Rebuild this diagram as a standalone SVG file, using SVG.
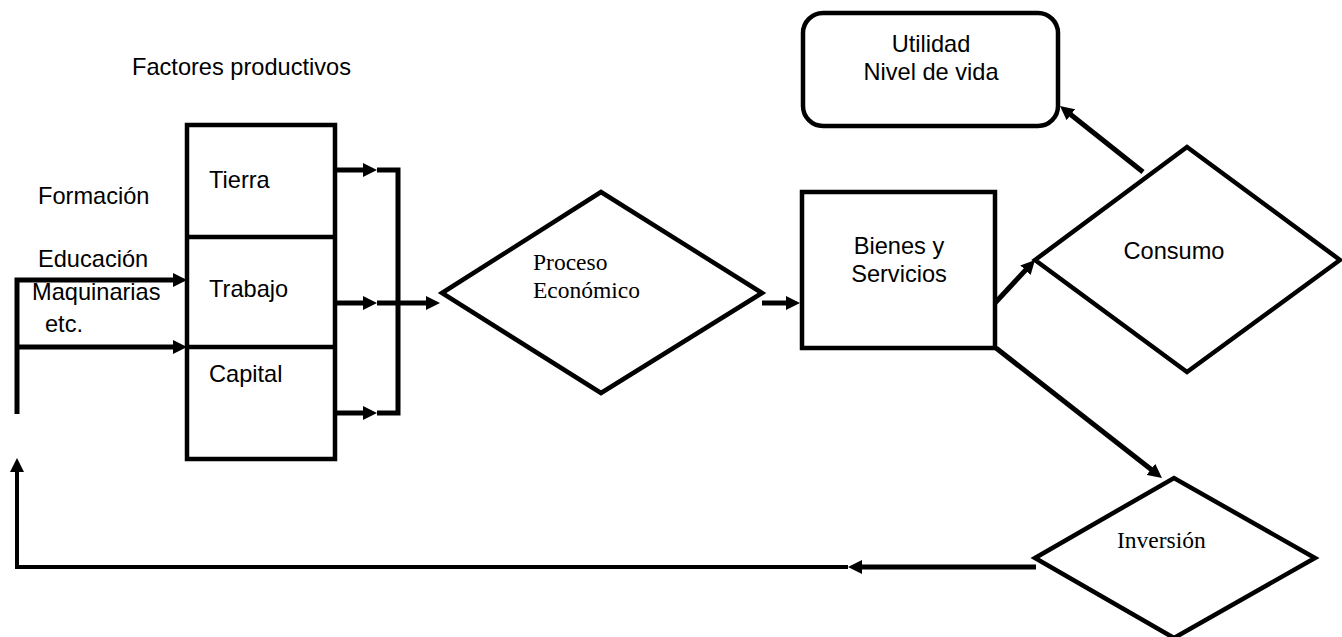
<svg xmlns="http://www.w3.org/2000/svg" width="1342" height="637" viewBox="0 0 1342 637">
<style>
.s{fill:none;stroke:#000;stroke-width:4.5;stroke-linejoin:miter}
.c{fill:none;stroke:#000;stroke-width:5}
.t{font-family:"Liberation Sans",Arial,sans-serif;font-size:23.6px;fill:#000}
.r{font-family:"Liberation Serif","Times New Roman",serif;font-size:23.5px;fill:#000}
.m{text-anchor:middle}
</style>
<defs>
<marker id="ah" markerUnits="userSpaceOnUse" markerWidth="14" markerHeight="14" refX="4" refY="7" orient="auto">
<path d="M0,0 L14,7 L0,14 z" fill="#000"/>
</marker>
</defs>
<rect width="1342" height="637" fill="#fff"/>

<g id="labels">
<text class="t" x="132" y="75">Factores productivos</text>
<text class="t" x="38" y="204">Formación</text>
<text class="t" x="38" y="267">Educación</text>
<text class="t" x="32" y="300">Maquinarias</text>
<text class="t" x="45" y="332">etc.</text>
</g>

<g id="factores">
<rect class="s" x="187" y="125" width="148" height="334"/>
<line class="s" x1="187" y1="237" x2="335" y2="237"/>
<line class="s" x1="187" y1="347" x2="335" y2="347"/>
<text class="t" x="209" y="188">Tierra</text>
<text class="t" x="209" y="297">Trabajo</text>
<text class="t" x="209" y="382">Capital</text>
</g>

<g id="proceso">
<polygon class="s" points="442,293 601,192 762,293 601,393"/>
<text class="r" x="533" y="270">Proceso</text>
<text class="r" x="533" y="298">Económico</text>
</g>

<g id="bienes">
<rect class="s" x="802" y="192" width="193" height="156"/>
<text class="t m" x="899" y="254">Bienes y</text>
<text class="t m" x="899" y="282">Servicios</text>
</g>

<g id="consumo">
<polygon class="s" points="1035,260 1187,147 1340,260 1187,372"/>
<text class="t m" x="1174" y="259">Consumo</text>
</g>

<g id="utilidad">
<rect class="s" x="803" y="13" width="255" height="113" rx="20" ry="20"/>
<text class="t m" x="931" y="52">Utilidad</text>
<text class="t m" x="931" y="80">Nivel de vida</text>
</g>

<g id="inversion">
<polygon class="s" points="1035,558 1174,478 1315,558 1174,638"/>
<text class="r" x="1117" y="548">Inversión</text>
</g>

<g id="connectors">
<polyline class="c" points="17,414 17,280 177,280" marker-end="url(#ah)"/>
<line class="c" x1="17" y1="347" x2="177" y2="347" marker-end="url(#ah)"/>
<line class="c" x1="335" y1="170" x2="367" y2="170" marker-end="url(#ah)"/>
<line class="c" x1="335" y1="303" x2="367" y2="303" marker-end="url(#ah)"/>
<line class="c" x1="335" y1="413" x2="367" y2="413" marker-end="url(#ah)"/>
<polyline class="c" points="377,170 398,170 398,413 377,413"/>
<line class="c" x1="377" y1="303" x2="430" y2="303" marker-end="url(#ah)"/>
<line class="c" x1="762" y1="303" x2="790" y2="303" marker-end="url(#ah)"/>
<line class="c" x1="995" y1="303" x2="1028.2" y2="267.3" marker-end="url(#ah)"/>
<line class="c" x1="1143" y1="172" x2="1067.8" y2="112.2" marker-end="url(#ah)"/>
<line class="c" x1="996" y1="348" x2="1154.1" y2="471.8" marker-end="url(#ah)"/>
<line class="c" x1="1036" y1="567" x2="858" y2="567" marker-end="url(#ah)"/>
<polyline class="c" points="848,567 17,567 17,468" marker-end="url(#ah)" style="stroke-width:4"/>
</g>
</svg>
